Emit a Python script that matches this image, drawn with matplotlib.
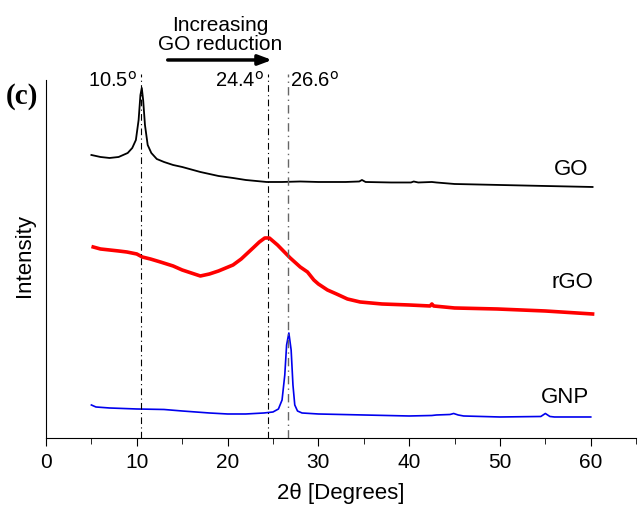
import numpy as np
import matplotlib.pyplot as plt

plt.rcParams['font.family'] = ['Liberation Sans', 'DejaVu Sans']

# GO trace (2theta, intensity in arbitrary units)
go_x = [5.0, 6.0, 7.0, 8.0, 9.0, 9.5, 9.9, 10.2, 10.4, 10.55, 10.7, 10.9, 11.2, 11.6,
        12.2, 13, 14, 15, 17, 19, 20.6, 22, 24.3, 26, 28, 30, 33, 34.5, 34.8, 35.2,
        38, 40.2, 40.5, 41, 42.5, 43, 45, 50, 55, 60.2]
go_y = [283, 281, 280, 281, 285, 290, 298, 318, 343, 350, 338, 313, 293, 285,
        279, 276, 273, 271, 266, 262, 260, 258, 256, 256, 256.5, 256, 256, 256.5, 258, 256,
        255.5, 255.5, 256.5, 255.5, 256, 255.5, 254, 253, 252, 251]

# rGO trace
rgo_x = [5.2, 6, 7, 8, 8.9, 10, 10.6, 11.5, 12.6, 14, 15, 16, 17, 18, 19, 20.6, 21.5,
         22.8, 23.5, 24.1, 24.6, 25.5, 26.9, 28, 28.8, 29.5, 30, 31, 32, 33.2, 34.6,
         37, 40, 42.3, 42.5, 42.7, 45, 49.7, 55, 60.2]
rgo_y = [191, 189, 188, 187, 186, 184, 181, 179, 176, 172, 168, 165, 162, 164, 167, 173, 179,
         190, 196, 200, 200, 193, 180, 171, 166, 158, 154, 148, 144, 139, 136,
         134, 133, 132, 134, 132, 130, 129, 127, 124]

# GNP trace
gnp_x = [5.0, 5.5, 7, 10, 13, 15, 18, 20, 22, 24, 25, 25.6, 26.0, 26.3, 26.5, 26.75,
         27.0, 27.2, 27.4, 27.7, 28.2, 30, 35, 40, 42.5, 43, 44.5, 44.9, 45.4, 46, 50,
         54.5, 55, 55.5, 56, 60]
gnp_y = [33, 31, 30, 29, 28.5, 27, 25, 24, 24, 25, 26, 29, 38, 63, 93, 105,
         88, 53, 33, 27, 25, 24, 23, 22, 22.5, 23, 23.5, 24.5, 23, 22, 21,
         21.5, 24.5, 21.5, 21, 21]

peaks = [10.5, 24.4, 26.6]
peak_labels = ['10.5$^{\\rm o}$', '24.4$^{\\rm o}$', '26.6$^{\\rm o}$']

fig = plt.figure(figsize=(6.38, 5.05), dpi=100)
ax = fig.add_axes([0.0721, 0.1327, 0.925, 0.7208])

ax.plot(go_x, go_y, color='black', lw=1.3)
ax.plot(rgo_x, rgo_y, color='#ff0000', lw=2.6)
ax.plot(gnp_x, gnp_y, color='#0000ee', lw=1.2)

ax.axvline(peaks[0], color='black', lw=0.8, ls=(0, (6, 3, 1, 3)))
ax.axvline(peaks[1], color='black', lw=0.8, ls=(0, (6, 3, 1, 3)))
ax.axvline(peaks[2], color='#666666', lw=1.0, ls=(0, (6, 3, 1, 3)))

ax.set_xlim(0, 65)
ax.set_ylim(0, 364)
ax.spines['top'].set_visible(False)
ax.spines['right'].set_visible(False)
ax.spines['left'].set_bounds(0, 358)
ax.set_yticks([])
ax.set_xticks(np.arange(0, 61, 10))
ax.set_xticks(np.arange(5, 66, 10), minor=True)
ax.tick_params(axis='x', which='major', direction='out', length=6, labelsize=15, pad=5)
ax.tick_params(axis='x', which='minor', direction='out', length=4)

ax.set_xlabel('2θ [Degrees]', fontsize=16, labelpad=8)
ax.set_ylabel('Intensity', fontsize=16, labelpad=8)

fs = 14.5
ax.text(peaks[0] - 0.4, 357, peak_labels[0], ha='right', va='center', fontsize=fs)
ax.text(peaks[1] - 0.4, 357, peak_labels[1], ha='right', va='center', fontsize=fs)
ax.text(peaks[2] + 0.3, 357, peak_labels[2], ha='left', va='center', fontsize=fs)

ax.text(19.2, 403, 'Increasing\nGO reduction', ha='center', va='center',
        fontsize=15, linespacing=1.0, clip_on=False)
ax.annotate('', xy=(25.2, 378), xytext=(13.1, 378), annotation_clip=False,
            arrowprops=dict(arrowstyle='-|>,head_length=0.8,head_width=0.3',
                            color='black', lw=2.5))

ax.text(57.8, 268, 'GO', ha='center', va='center', fontsize=16)
ax.text(58.0, 155, 'rGO', ha='center', va='center', fontsize=16)
ax.text(57.2, 40, 'GNP', ha='center', va='center', fontsize=16)

fig.text(0.035, 0.808, '(c)', ha='center', va='center', fontsize=21,
         fontweight='bold', family='Liberation Serif')

fig.savefig('out.png', dpi=100)
